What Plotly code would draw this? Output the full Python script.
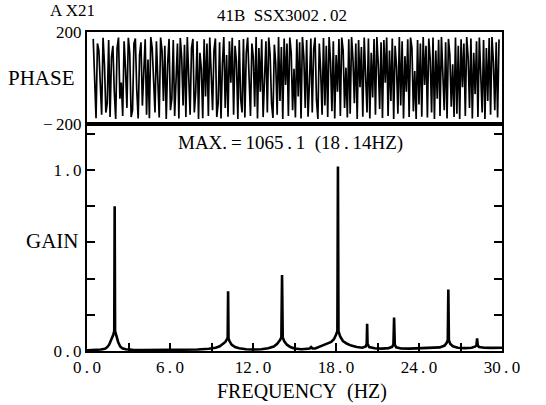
import plotly.graph_objects as go
from plotly.subplots import make_subplots

# ---------------- data ----------------
GAIN_FREQ = [0.0, 0.5, 1.0, 1.3, 1.45, 1.6, 1.75, 1.9, 1.97, 2.0, 2.03, 2.1, 2.25, 2.4, 2.55, 2.8, 3.3, 4.0, 5.0, 6.0,
             7.0, 8.0, 8.8, 9.3, 9.6, 9.85, 10.0, 10.12, 10.17, 10.2, 10.23, 10.3, 10.45, 10.7, 11.0, 11.5, 12.0, 12.6,
             13.1, 13.5, 13.75, 13.95, 14.05, 14.1, 14.15, 14.25, 14.45, 14.7, 15.0, 15.5, 15.9, 16.1, 16.2, 16.3,
             16.5, 16.8, 17.1, 17.4, 17.65, 17.85, 18.0, 18.1, 18.14, 18.18, 18.3, 18.5, 18.8, 19.1, 19.5, 19.9,
             20.15, 20.22, 20.25, 20.28, 20.4, 20.8, 21.3, 21.8, 22.05, 22.15, 22.2, 22.25, 22.35, 22.7, 23.3, 24.0,
             24.8, 25.5, 25.85, 26.0, 26.08, 26.12, 26.16, 26.25, 26.45, 26.8, 27.3, 27.8, 28.05, 28.15, 28.2, 28.25,
             28.35, 28.7, 29.2, 29.6, 30.0]
GAIN_VAL = [0.004, 0.005, 0.008, 0.012, 0.02, 0.035, 0.06, 0.09, 0.11, 0.80, 0.11, 0.085, 0.05, 0.025, 0.015, 0.01,
            0.006, 0.005, 0.005, 0.006, 0.006, 0.008, 0.012, 0.018, 0.026, 0.038, 0.05, 0.065, 0.075, 0.33, 0.07,
            0.055, 0.035, 0.022, 0.015, 0.01, 0.008, 0.01, 0.015, 0.025, 0.04, 0.06, 0.075, 0.42, 0.075, 0.055,
            0.035, 0.022, 0.014, 0.01, 0.01, 0.014, 0.022, 0.014, 0.014, 0.022, 0.03, 0.042, 0.05, 0.065, 0.09,
            0.11, 1.02, 0.11, 0.08, 0.055, 0.04, 0.03, 0.022, 0.018, 0.025, 0.04, 0.15, 0.04, 0.022, 0.015, 0.013,
            0.016, 0.022, 0.035, 0.185, 0.035, 0.02, 0.014, 0.013, 0.014, 0.016, 0.02, 0.03, 0.045, 0.06, 0.34,
            0.06, 0.04, 0.026, 0.018, 0.016, 0.018, 0.024, 0.03, 0.07, 0.03, 0.022, 0.018, 0.017, 0.018, 0.018]

PHASE_F0 = 0.45
PHASE_DF = 0.1015
PHASE_VAL = [170, -40, -175, 150, 120, -20, -160, 175, 60, -150,
             -110, 165, -170, 90, 140, -60, -178, 130, 176, -90,
             -20, -165, 160, 40, -130, 175, 110, -170, -140, 150,
             172, -50, -176, 100, 155, -120, 20, 168, -160, 80,
             -175, 178, 130, -60, -150, 160, -10, -172, 176, 120,
             -100, 140, -178, 60, 170, -140, -90, 165, -165, 30,
             150, -176, 174, 90, -120, 145, -170, 178, -30, -160,
             130, 170, -150, -60, 160, -178, 110, 40, -175, 168,
             -80, 150, -165, 176, 20, -140, 120, 172, -170, -110,
             155, -176, 60, 178, -130, 100, -168, 160, -20, 175,
             -160, 140, 70, -178, 165, -90, -150, 170, -172, 110,
             176, -40, -165, 150, 90, -125, 178, -176, 130, -60,
             168, -170, 20, 160, -150, 176, 100, -110, -174, 145,
             60, -160, 178, -100, 135, -178, 172, -30, 150, -165,
             176, 110, -140, 40, -172, 168, -80, 155, -176, 178,
             90, -130, 165, -168, -20, 172, -150, 125, 176, -95,
             -178, 150, 30, -160, 174, -120, 140, -170, 178, 70,
             -145, 160, -176, 100, -60, 170, -165, 176, 120, -130,
             45, -172, 168, -155, 178, 80, -110, 150, -178, 165,
             -40, 135, -168, 176, 10, -150, 172, -176, 110, -85,
             170, -160, 178, 60, -135, 155, -174, 165, -20, 176,
             -165, 120, -100, 172, -178, 140, 50, -155, 178, -120,
             160, -176, 95, -60, 168, -170, 176, 130, -145, 30,
             -178, 165, -115, 150, -168, 178, -30, 140, -172, 172,
             80, -150, 176, -178, 120, -90, 166, -165, 178, 20,
             -140, 155, -176, 170, 100, -125, 60, -170, 176, -155,
             140, -178, 168, -40, 150, -165, 178, 90, -130, 172,
             -176, 110, -70, 160, -170, 176, 30, -150, 165, -178,
             130, -100, 174, -160, 178, 70, -140, 155, -172, 168]
PHASE_FREQ = [PHASE_F0 + i * PHASE_DF for i in range(len(PHASE_VAL))]

T = "\u2009"
X_TICKS = [0, 3, 6, 9, 12, 15, 18, 21, 24, 27, 30]
X_TICKTEXT = ["0" + T + "." + T + "0", "", "6" + T + "." + T + "0", "", "12" + T + "." + T + "0", "",
              "18" + T + "." + T + "0", "", "24" + T + "." + T + "0", "", "30" + T + "." + T + "0"]
G_TICKS = [0.0, 0.2, 0.4, 0.6, 0.8, 1.0, 1.2]
G_TICKTEXT = ["0" + T + "." + T + "0", "", "", "", "", "1" + T + "." + T + "0", ""]

# ---------------- layout geometry ----------------
W, H = 546, 405
ML, MR, MT, MB = 87, 44, 32, 54
PW, PH = W - ML - MR, H - MT - MB
SPLIT = (H - MB - 124) / PH   # boundary between gain and phase panels

def px(x):
    return (x - ML) / PW

def py(y):
    return (H - MB - y) / PH

FONT = "Liberation Serif"
TICKSIZE = 17

fig = make_subplots(rows=2, cols=1, shared_xaxes=False, vertical_spacing=0)
fig.add_trace(go.Scatter(x=PHASE_FREQ, y=PHASE_VAL, mode="lines",
                         line=dict(color="black", width=1.7), showlegend=False), row=1, col=1)
fig.add_trace(go.Scatter(x=GAIN_FREQ, y=GAIN_VAL, mode="lines",
                         line=dict(color="black", width=2.6), showlegend=False), row=2, col=1)

axis_common = dict(showline=True, linecolor="black", linewidth=2, mirror=True, showgrid=False, zeroline=False)

fig.update_layout(
    width=W, height=H, margin=dict(l=ML, r=MR, t=MT, b=MB),
    paper_bgcolor="white", plot_bgcolor="white",
    font=dict(family=FONT, color="black", size=TICKSIZE),
    xaxis=dict(domain=[0, 1], range=[0, 30], showticklabels=False, ticks="", anchor="y", **axis_common),
    yaxis=dict(domain=[SPLIT, 1], range=[-200, 200], tickvals=[-200, 200],
               ticktext=["\u2212" + T + "200", "200"],
               ticks="", tickfont=dict(size=TICKSIZE, family=FONT), anchor="x", **axis_common),
    xaxis2=dict(domain=[0, 1], range=[0, 30], tickvals=X_TICKS, ticktext=X_TICKTEXT, ticks="inside",
                ticklen=8, tickwidth=1.5, tickcolor="black", tickfont=dict(size=TICKSIZE, family=FONT),
                anchor="y2", **axis_common),
    yaxis2=dict(domain=[0, SPLIT], range=[0, (H - MB - 124) / 181], tickvals=G_TICKS, ticktext=G_TICKTEXT,
                ticks="inside", ticklen=8, tickwidth=1.5, tickcolor="black",
                tickfont=dict(size=TICKSIZE, family=FONT), anchor="x2",
                showline=True, linecolor="black", linewidth=2, mirror="ticks", showgrid=False, zeroline=False),
)

def label(text, x, y, size, xanchor="center"):
    fig.add_annotation(text=text, x=px(x), y=py(y), xref="paper", yref="paper", showarrow=False,
                       xanchor=xanchor, yanchor="middle", font=dict(family=FONT, size=size, color="black"))

label("A" + T + "X21", 72, 11, 17)
label("41B\u00a0\u00a0SSX3002" + T + "." + T + "02", 282, 16, 17)
label("PHASE", 41, 78, 21)
label("GAIN", 52, 241, 21)
label("MAX." + T + "=" + T + "1065" + T + "." + T + "1\u00a0\u00a0(18" + T + "." + T + "14HZ)", 290, 143, 19)
label("FREQUENCY\u00a0\u00a0(HZ)", 302, 391, 20)

fig.write_html("out.html")
